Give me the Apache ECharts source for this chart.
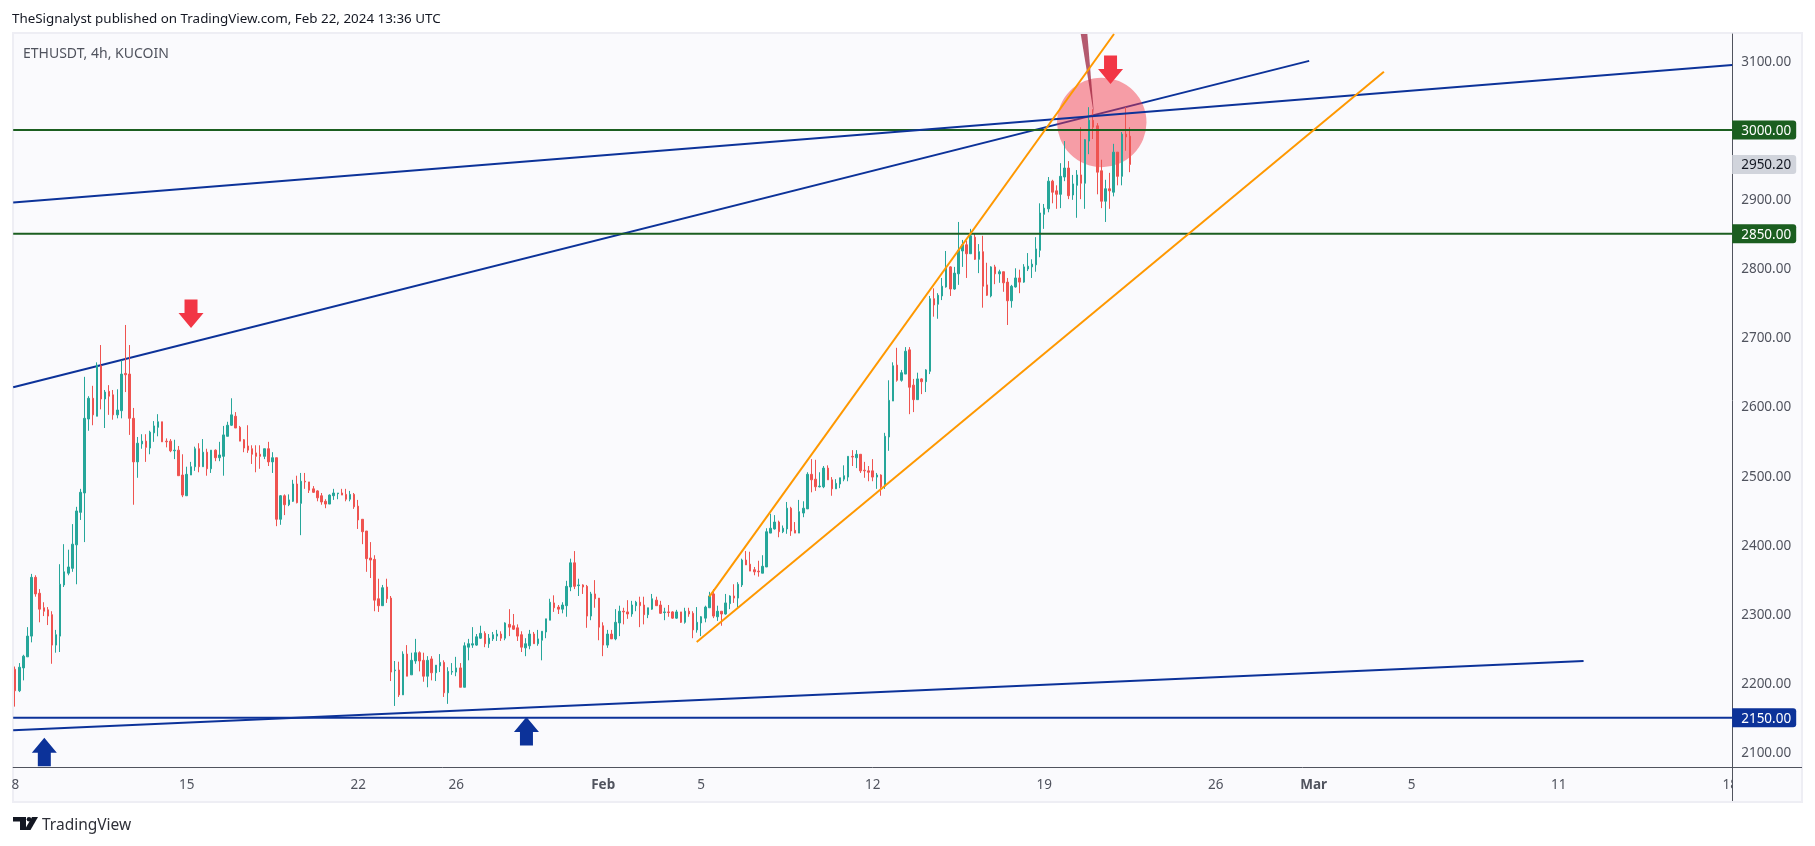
<!DOCTYPE html>
<html>
<head>
<meta charset="utf-8">
<style>html,body{margin:0;padding:0;background:#fff}#c{width:1815px;height:846px}</style>
<script src="https://cdn.jsdelivr.net/npm/echarts@6/dist/echarts.min.js"></script>
</head>
<body>
<div id="c"></div>
<script>
// ---- candle values, 4h bars from Jan 8 00:00 UTC ----
const opens = [
2220,2189,2222,2238,2268,2353,2330,2309,2306,2299,
2255,2268,2342,2359,2366,2400,2447,2475,2582,2612,
2586,2659,2611,2622,2617,2588,2594,2648,2647,2583,
2520,2546,2550,2540,2562,2570,2578,2550,2550,2536,
2537,2501,2471,2501,2513,2539,2513,2534,2510,2537,
2526,2528,2557,2573,2586,2570,2552,2543,2539,2533,
2531,2528,2539,2520,2526,2437,2471,2458,2463,2488,
2460,2492,2491,2481,2478,2471,2463,2459,2471,2474,
2475,2473,2466,2473,2456,2437,2420,2381,2379,2322,
2312,2339,2323,2218,2219,2183,2242,2212,2232,2244,
2233,2210,2235,2215,2225,2230,2186,2216,2216,2222,
2194,2252,2255,2255,2265,2272,2257,2264,2268,2271,
2265,2285,2283,2280,2270,2251,2254,2271,2257,2262,
2274,2291,2316,2310,2307,2312,2339,2374,2341,2342,
2340,2297,2329,2323,2283,2255,2271,2264,2287,2304,
2303,2300,2312,2317,2313,2299,2307,2320,2313,2302,
2303,2303,2294,2303,2288,2304,2301,2277,2287,2294,
2309,2329,2296,2304,2300,2315,2326,2323,2342,2378,
2372,2364,2362,2359,2368,2417,2423,2433,2419,2423,
2453,2421,2417,2446,2452,2502,2495,2484,2484,2511,
2494,2481,2488,2495,2498,2528,2526,2531,2508,2507,
2507,2498,2501,2485,2556,2608,2660,2638,2647,2682,
2631,2610,2640,2636,2651,2756,2748,2760,2773,2802,
2770,2792,2825,2834,2821,2845,2813,2824,2776,2760,
2802,2792,2795,2780,2753,2773,2786,2780,2799,2802,
2805,2826,2878,2886,2926,2912,2907,2932,2945,2906,
2920,2935,2923,2984,3014,3006,2941,2897,2915,2910,
2968,2933,2994,2991];
const highs = [
2224,2229,2241,2281,2358,2356,2336,2317,2310,2304,
2277,2372,2401,2393,2430,2455,2481,2643,2615,2630,
2664,2689,2624,2631,2624,2625,2667,2718,2689,2598,
2556,2560,2560,2565,2579,2589,2578,2554,2553,2552,
2543,2531,2513,2520,2542,2547,2553,2539,2537,2538,
2549,2572,2578,2612,2592,2572,2553,2573,2544,2544,
2544,2539,2549,2534,2526,2472,2473,2473,2494,2500,
2504,2504,2491,2485,2479,2475,2466,2473,2481,2475,
2481,2481,2478,2475,2465,2437,2420,2404,2385,2351,
2342,2351,2326,2232,2231,2246,2255,2244,2264,2246,
2244,2239,2239,2226,2242,2233,2223,2229,2238,2229,
2259,2264,2281,2271,2283,2275,2271,2274,2277,2275,
2288,2307,2300,2285,2275,2265,2277,2274,2277,2275,
2293,2322,2327,2313,2317,2348,2380,2391,2351,2343,
2342,2332,2349,2323,2288,2277,2277,2307,2312,2309,
2320,2319,2319,2325,2325,2309,2329,2325,2319,2309,
2313,2304,2306,2303,2309,2309,2304,2310,2297,2312,
2332,2336,2312,2304,2329,2327,2343,2346,2380,2391,
2390,2368,2377,2385,2424,2445,2443,2435,2428,2462,
2455,2433,2465,2463,2505,2524,2523,2505,2514,2515,
2498,2495,2497,2515,2528,2537,2537,2531,2520,2514,
2524,2504,2502,2562,2638,2664,2685,2653,2686,2686,
2640,2649,2641,2654,2760,2771,2764,2786,2825,2803,
2802,2867,2841,2840,2857,2851,2835,2847,2808,2803,
2805,2798,2795,2786,2776,2800,2798,2806,2822,2813,
2845,2894,2893,2932,2928,2920,2952,2984,2955,2935,
2942,3004,2987,3033,3030,3010,2957,2928,2938,2980,
2968,2997,3033,3004];
const lows = [
2166,2187,2204,2238,2259,2325,2288,2297,2284,2228,
2244,2245,2339,2356,2361,2343,2436,2404,2565,2573,
2586,2596,2569,2588,2581,2583,2583,2621,2559,2458,
2497,2539,2520,2531,2549,2557,2549,2541,2534,2524,
2500,2469,2471,2501,2507,2505,2513,2500,2504,2521,
2521,2500,2557,2572,2569,2550,2534,2533,2517,2505,
2510,2524,2514,2504,2427,2429,2443,2456,2462,2460,
2414,2481,2475,2475,2463,2458,2453,2459,2465,2466,
2472,2463,2463,2452,2423,2401,2361,2352,2304,2303,
2312,2316,2203,2167,2180,2183,2210,2212,2228,2217,
2202,2194,2204,2203,2216,2180,2170,2212,2210,2194,
2194,2233,2251,2254,2264,2252,2251,2261,2261,2261,
2262,2268,2277,2261,2245,2239,2249,2257,2254,2233,
2265,2291,2303,2300,2301,2296,2333,2336,2326,2329,
2280,2291,2309,2262,2239,2251,2264,2262,2268,2285,
2293,2296,2304,2281,2285,2294,2306,2312,2300,2291,
2296,2293,2293,2287,2286,2296,2265,2273,2268,2288,
2309,2294,2290,2283,2299,2307,2316,2310,2339,2371,
2362,2356,2354,2359,2368,2417,2422,2411,2417,2416,
2413,2417,2417,2440,2452,2476,2478,2483,2482,2494,
2471,2481,2482,2492,2492,2514,2511,2504,2497,2492,
2492,2481,2471,2481,2536,2608,2636,2636,2647,2589,
2592,2610,2618,2621,2647,2730,2727,2754,2772,2760,
2769,2776,2802,2786,2821,2812,2793,2743,2760,2758,
2777,2779,2766,2718,2743,2772,2764,2779,2796,2786,
2795,2816,2857,2881,2894,2886,2887,2926,2900,2899,
2873,2900,2886,2965,2987,2907,2887,2867,2886,2904,
2920,2920,2970,2939];
const closes = [
2189,2223,2239,2268,2353,2329,2307,2304,2297,2255,
2270,2343,2361,2368,2401,2449,2476,2583,2612,2588,
2660,2611,2621,2615,2588,2595,2647,2646,2583,2520,
2547,2550,2541,2563,2572,2578,2549,2549,2536,2537,
2500,2472,2502,2513,2539,2513,2534,2510,2537,2526,
2530,2559,2573,2588,2569,2550,2540,2537,2531,2528,
2528,2539,2520,2526,2437,2471,2458,2465,2488,2461,
2492,2491,2479,2476,2468,2462,2459,2472,2475,2475,
2472,2466,2473,2455,2436,2419,2380,2378,2320,2312,
2338,2322,2216,2219,2183,2242,2210,2233,2244,2232,
2210,2233,2215,2226,2230,2186,2217,2217,2222,2194,
2254,2257,2257,2267,2272,2257,2265,2270,2271,2265,
2287,2281,2278,2268,2252,2257,2271,2257,2264,2275,
2293,2317,2309,2307,2313,2340,2374,2340,2342,2339,
2297,2329,2322,2281,2255,2271,2264,2288,2304,2303,
2300,2313,2317,2312,2299,2309,2322,2312,2301,2303,
2302,2294,2303,2288,2304,2300,2277,2288,2296,2310,
2326,2297,2304,2300,2316,2326,2323,2343,2378,2371,
2362,2361,2361,2369,2419,2424,2433,2419,2424,2453,
2420,2417,2448,2453,2502,2494,2484,2485,2511,2494,
2481,2489,2497,2500,2528,2527,2531,2507,2507,2505,
2498,2501,2484,2557,2609,2659,2638,2649,2680,2628,
2610,2640,2636,2653,2756,2747,2761,2774,2802,2770,
2793,2826,2834,2821,2847,2813,2824,2774,2761,2802,
2792,2795,2779,2753,2774,2786,2780,2802,2803,2806,
2828,2880,2887,2926,2910,2907,2933,2945,2905,2922,
2935,2923,2986,3014,3004,2939,2897,2915,2912,2968,
2933,2994,2990,2950.2];

// ---- axes ----
const barCount = 421;
const priceMin = 2078.7, priceMax = 3138.85;
const tickIndex = [0,42,84,108,144,168,210,252,294,318,342,378,420];
const tickText  = ['8','15','22','26','Feb','5','12','19','26','Mar','5','11','18'];
const priceTicks = [3100,2900,2800,2700,2600,2500,2400,2300,2200,2100];
const greenLevels = [3000,2850];
const blueLevels = [2150];
const lastPrice = 2950.2;

// ---- drawings, as [bar index, price] ----
const flatResistance = [[-0.5,2895],[420.5,3094]];
const risingResistance = [[-0.5,2628],[316.9,3100]];
const lowerSupport = [[-0.5,2132],[384.1,2232]];
const channelUpper = [[170,2325],[269.1,3138.85]];
const channelLower = [[166.9,2259.4],[335.2,3084.2]];
const redArrows = [[43.05,2713.6],[268.25,3066.5]];
const blueArrows = [[7.12,2121],[125.2,2151]];
const circleSpot = [[266.1,3011,64.7]];
const wedge = [[260.95,3138.85,262.57,3138.85,264.2,3021.7]];

const categories = Array.from({length: barCount}, (_, i) =>
  new Date(Date.UTC(2024,0,8,4*i)).toISOString().slice(0,16));

const UP='#26a69a', DOWN='#ef5350', GREEN='#1b5e20', BLUE='#0c3299', ORANGE='#ff9800', RED='#f23645';
const FONT='"Noto Sans", sans-serif';

function trend(name, data, color, z){
  return {type:'line', name, data, xAxisIndex:1, yAxisIndex:0, symbol:'none', silent:true, z,
    lineStyle:{color, width:2}, emphasis:{disabled:true}, animation:false};
}
function hline(name, price, color){
  return trend(name, [[-0.5,price],[420.5,price]], color, 6);
}
function arrowSeries(name, data, dir, color){
  return {type:'custom', name, data, xAxisIndex:1, yAxisIndex:0, z:7, silent:true,
    encode:{x:0,y:1}, clip:false,
    renderItem(p, api){
      const t = api.coord([api.value(0), api.value(1)]);
      const x=t[0], y=t[1], d=dir;
      return {type:'polygon', shape:{points:[
        [x,y],[x+12.5,y-15*d],[x+6.5,y-15*d],[x+6.5,y-28.5*d],
        [x-6.5,y-28.5*d],[x-6.5,y-15*d],[x-12.5,y-15*d]]},
        style:{fill:color}};
    }};
}

const levelSet = {3000:'g',2850:'g',2150:'b',2950.2:'l'};
const LABEL_SIZE = 13.5;
const tagStyle = (bg,col)=>({backgroundColor:bg,color:col,fontSize:LABEL_SIZE,fontFamily:FONT,height:17,lineHeight:17,
  width:55,padding:[2,0,0,9],borderRadius:[0,3,3,0]});

const option = {
  animation:false,
  backgroundColor:'#ffffff',
  title:[
    {text:'TheSignalyst published on TradingView.com, Feb 22, 2024 13:36 UTC', left:12, top:13, padding:0,
     textStyle:{fontFamily:FONT,fontSize:13.4,fontWeight:'normal',color:'#131722'}},
    {text:'ETHUSDT, 4h, KUCOIN', left:23, top:47, padding:0,
     textStyle:{fontFamily:FONT,fontSize:14,fontWeight:'normal',color:'#50535e'}},
    {text:'TradingView', left:42, top:818, padding:0,
     textStyle:{fontFamily:FONT,fontSize:15.5,fontWeight:'normal',color:'#2e3038'}}
  ],
  grid:{left:13.2, top:34, width:1719, height:733, containLabel:false},
  xAxis:[
    {type:'category', data:categories, boundaryGap:true,
     axisLine:{show:true,lineStyle:{color:'#50535e',width:1}},
     axisTick:{show:false}, splitLine:{show:false},
     axisLabel:{
       interval:(i)=>tickIndex.includes(i), hideOverlap:false, margin:11,
       showMinLabel:true, showMaxLabel:true,
       color:'#50535e', fontFamily:FONT, fontSize:LABEL_SIZE,
       formatter:(v,i)=>{const k=tickIndex.indexOf(i); if(k<0) return ''; const t=tickText[k];
         return (t==='Feb'||t==='Mar')?'{b|'+t+'}':t;},
       rich:{b:{fontWeight:'bold',color:'#50535e',fontFamily:FONT,fontSize:LABEL_SIZE}}
     }},
    {type:'value', min:-0.5, max:420.5, show:false, splitLine:{show:false}, position:'bottom'}
  ],
  yAxis:[{type:'value', position:'right', min:priceMin, max:priceMax, scale:true,
    splitLine:{show:false}, axisTick:{show:false},
    axisLine:{show:true,onZero:false,lineStyle:{color:'#50535e',width:1}},
    axisLabel:{
      customValues:[...priceTicks,...greenLevels,...blueLevels,lastPrice].sort((a,b)=>b-a),
      margin:0, hideOverlap:false, showMinLabel:true, showMaxLabel:true,
      color:'#50535e', fontFamily:FONT, fontSize:LABEL_SIZE, align:'left',
      formatter:(v)=>{const k=levelSet[v]||'n'; return '{'+k+'|'+v.toFixed(2)+'}';},
      rich:{
        n:{color:'#50535e',fontSize:LABEL_SIZE,fontFamily:FONT,padding:[2,0,0,9]},
        g:tagStyle(GREEN,'#ffffff'), b:tagStyle(BLUE,'#ffffff'), l:tagStyle('#d1d4dc','#131722')
      }
    }}],
  series:[
    trend('rising resistance', risingResistance, BLUE, 2),
    {type:'custom', name:'spot', data:circleSpot, xAxisIndex:1, yAxisIndex:0, z:3, silent:true,
     encode:{x:0,y:1},
     renderItem(p,api){
       const c=api.coord([api.value(0),api.value(1)]);
       const r=api.size([0,api.value(2)])[1];
       return {type:'circle',shape:{cx:c[0],cy:c[1],r},style:{fill:'rgba(242,54,69,0.47)'}};
     }},
    {type:'custom', name:'wedge', data:wedge, xAxisIndex:1, yAxisIndex:0, z:3, silent:true,
     encode:{x:[0,2,4],y:[1,3,5]},
     renderItem(p,api){
       const pts=[0,2,4].map(k=>api.coord([api.value(k),api.value(k+1)]));
       return {type:'polygon',shape:{points:pts},style:{fill:'rgba(152,28,56,0.72)'}};
     }},
    {type:'candlestick', name:'ETHUSDT', xAxisIndex:0, yAxisIndex:0, z:4, silent:true, barWidth:2,
     data:opens.map((o,i)=>[o,closes[i],lows[i],highs[i]]),
     itemStyle:{color:UP,color0:DOWN,borderColor:UP,borderColor0:DOWN,borderWidth:1}},
    hline('3000',greenLevels[0],GREEN),
    hline('2850',greenLevels[1],GREEN),
    hline('2150',blueLevels[0],BLUE),
    trend('flat resistance', flatResistance, BLUE, 6),
    trend('lower support', lowerSupport, BLUE, 6),
    trend('channel upper', channelUpper, ORANGE, 6),
    trend('channel lower', channelLower, ORANGE, 6),
    arrowSeries('sell', redArrows, 1, RED),
    arrowSeries('buy', blueArrows, -1, BLUE)
  ],
  graphic:[
    {type:'rect',z:-1,silent:true,shape:{x:13,y:33,width:1789,height:769},style:{fill:'#fafafd',stroke:'#eeeef4',lineWidth:2}},
    {type:'line',z:1,silent:true,shape:{x1:1732,y1:767.5,x2:1802,y2:767.5},style:{stroke:'#50535e',lineWidth:1}},
    {type:'line',z:1,silent:true,shape:{x1:1732.5,y1:767,x2:1732.5,y2:801},style:{stroke:'#50535e',lineWidth:1}},
    // clip the two axis labels that run off the plot
    {type:'rect',z:20,silent:true,shape:{x:0,y:770,width:12,height:30},style:{fill:'#ffffff'}},
    {type:'rect',z:20,silent:true,shape:{x:1733,y:770,width:40,height:30},style:{fill:'#fafafd'}},
    // TradingView mark
    {type:'polygon',z:5,silent:true,shape:{points:[[13,817],[26,817],[26,830],[20,830],[20,821.5],[13,821.5]]},style:{fill:'#131722'}},
    {type:'circle',z:5,silent:true,shape:{cx:29,cy:819.3,r:2.3},style:{fill:'#131722'}},
    {type:'polygon',z:5,silent:true,shape:{points:[[32,817],[38,817],[30.5,830],[24.5,830]]},style:{fill:'#131722'}}
  ]
};
echarts.init(document.getElementById('c'),null,{renderer:'canvas'}).setOption(option);
</script>
</body>
</html>
